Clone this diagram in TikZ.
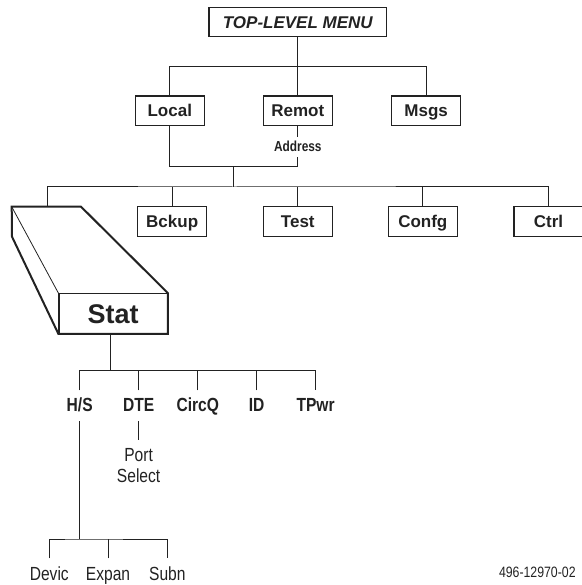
\documentclass[tikz,border=0pt]{standalone}
\usepackage{fontspec}
\setmainfont{Liberation Sans}
\newfontfamily\narrowfont[FakeStretch=0.82]{Liberation Sans}
\definecolor{ink}{HTML}{222222}
\begin{document}
\begin{tikzpicture}[x=1pt,y=-1pt,line join=miter,
  box/.style={draw=ink,line width=1.2pt,minimum width=69pt,minimum height=29.7pt,inner sep=0pt,
    text height=12.2pt,text depth=0pt,
    text=ink,font=\fontsize{17}{17}\selectfont\bfseries},
  topbox/.style={box,minimum width=177.6pt,minimum height=29.4pt,font=\fontsize{17}{17}\selectfont\bfseries\itshape},
  statbox/.style={box,minimum width=108.3pt,minimum height=39.6pt,text height=19.3pt,
    font=\fontsize{27}{27}\selectfont\bfseries},
  conn/.style={draw=ink,line width=1pt},
  lbl/.style={inner xsep=0pt,inner ysep=7pt,text height=13.6pt,text depth=0pt,text=ink,
    font=\narrowfont\fontsize{19}{19}\selectfont\bfseries},
  rlbl/.style={inner xsep=0pt,inner ysep=8pt,text height=13.6pt,text depth=0pt,text=ink,
    font=\narrowfont\fontsize{19}{19}\selectfont},
  addrlbl/.style={inner xsep=0pt,inner ysep=4.5pt,text height=10.3pt,text depth=0pt,text=ink,
    font=\narrowfont\fontsize{14.5}{14.5}\selectfont\bfseries},
  portlbl/.style={inner sep=0pt,align=center,text=ink,anchor=north,
    font=\narrowfont\fontsize{19}{21.7}\selectfont},
  numlbl/.style={inner sep=0pt,text=ink,font=\narrowfont\fontsize{15}{15}\selectfont}]
\useasboundingbox (0,0) rectangle (581,585);

% top level
\node[topbox] (top) at (297.8,22) {TOP-LEVEL MENU};
\node[box] (local) at (169.8,110.8) {Local};
\node[box] (remot) at (297.8,110.8) {Remot};
\node[box] (msgs) at (426.2,110.8) {Msgs};
\coordinate (j1) at (297.8,66.3);
\draw[conn] (top.south) -- (remot.north);
\draw[conn] (local.north) |- (j1) -| (msgs.north);

\node[addrlbl] (addr) at (297.8,146.7) {Address};
\draw[conn] (remot.south) -- (addr.north);
\coordinate (j2) at (233.7,166.7);
\coordinate (j3) at (233.7,187);
\draw[conn] (local.south) |- (j2) -| (addr.south);
\draw[conn] (j2) -- (j3);

% second row
\node[box] (bckup) at (172.2,221.5) {Bckup};
\node[box] (test) at (297.8,221.5) {Test};
\node[box] (confg) at (422.8,221.5) {Confg};
\node[box] (ctrl) at (548.5,221.5) {Ctrl};
\coordinate (stattop) at (47,206.7);
\draw[conn] (stattop) |- (j3) -| (ctrl.north);
\draw[conn] (bckup.north) -- (bckup.north |- j3);
\draw[conn] (test.north) -- (test.north |- j3);
\draw[conn] (confg.north) -- (confg.north |- j3);

% Stat block
\node[statbox] (stat) at (113.15,313.5) {Stat};
\draw[draw=ink,line width=0.8pt] (11.7,206.7) -- (stat.north west);
\draw[draw=ink,line width=2pt] (stat.south west) -- (12,236.7) -- (11.7,206.7) -- (81,206.7)
  -- (stat.north east) -- (stat.south east) -- cycle;

% Stat children
\node[lbl] (hs) at (79.7,404.3) {H/S};
\node[lbl] (dte) at (138.6,404.3) {DTE};
\node[lbl] (circq) at (197.8,404.3) {CircQ};
\node[lbl] (id) at (256.6,404.3) {ID};
\node[lbl] (tpwr) at (315.6,404.3) {TPwr};
\coordinate (j4) at (110.3,370.7);
\draw[conn] (j4 |- stat.south) -- (j4);
\draw[conn] (hs.north) |- (j4) -| (tpwr.north);
\draw[conn] (dte.north) -- (dte.north |- j4);
\draw[conn] (circq.north) -- (circq.north |- j4);
\draw[conn] (id.north) -- (id.north |- j4);

\node[portlbl] (port) at (138.6,448) {Port\\Select};
\draw[conn,shorten <=3pt,shorten >=8pt] (dte.south) -- (port.north);

% H/S children
\node[rlbl] (devic) at (49.3,573.3) {Devic};
\node[rlbl] (expan) at (108,573.3) {Expan};
\node[rlbl] (subn) at (167.3,573.3) {Subn};
\coordinate (j5) at (79.7,539);
\draw[conn,shorten <=3pt] (hs.south) -- (j5);
\draw[conn] (devic.north) |- (j5) -| (subn.north);
\draw[conn] (expan.north) -- (expan.north |- j5);

\node[numlbl] (num) at (537.3,572.3) {496-12970-02};
\end{tikzpicture}
\end{document}
